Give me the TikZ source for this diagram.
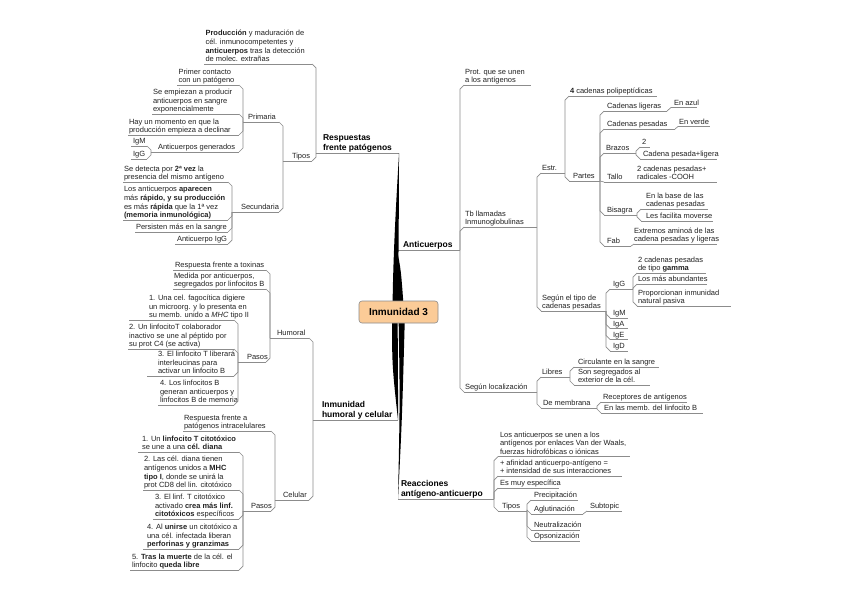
\documentclass[tikz,border=0pt]{standalone}
\usepackage{fontspec}
\setmainfont{Liberation Sans}
\usetikzlibrary{calc}
\definecolor{lncol}{HTML}{8C8C8C}
\definecolor{txtcol}{HTML}{222222}
\definecolor{orng}{HTML}{FBCB97}
\tikzset{
  tx/.style={inner sep=0pt, outer sep=0pt, align=left, font=\fontsize{7.5}{8.7}\selectfont, text=txtcol},
  mt/.style={inner sep=0pt, outer sep=0pt, align=left, font=\fontsize{8.5}{10}\selectfont\bfseries, text=black},
  ln/.style={draw=lncol, line width=0.7pt, line join=round},
  wedge/.style={fill=black},
}
% [style]{name}{text x}{underline y}{x1}{x2}{text}
\newcommand\T[7][tx]{%
  \node[#1,anchor=south west] (#2) at (#3,#4-0.3) {#7\rule[-1.8pt]{0pt}{0pt}};
  \coordinate (#2-a) at (#5,#4); \coordinate (#2-b) at (#6,#4);
  \draw[ln] (#2-a) -- (#2-b);}
% left child {child}{parent}{offset}
\newcommand\LC[3]{\draw[ln] (#1-b) -- ($(#1-b -| #2-a)+(0,#3)$) -- (#2-a);}
% right child {child}{parent}{offset}
\newcommand\RC[3]{\draw[ln] (#2-b) -- ($(#1-a -| #2-b)+(0,#3)$) -- (#1-a);}
\begin{document}
\begin{tikzpicture}[x=1pt,y=-1pt]
\useasboundingbox (0,0) rectangle (848,599);
\fill[white] (0,0) rectangle (848,599);

% ---------- Respuestas frente patogenos ----------
\T[mt]{resp}{323}{153}{316}{399}{Respuestas\\frente patógenos}
\T{prod}{205.5}{64}{204}{312}{\textbf{Producción} y maduración de\\cél. inmunocompetentes y\\\textbf{anticuerpos} tras la detección\\de molec. extrañas}
\T{tip1}{292}{161}{283}{312}{Tipos}
\LC{prod}{resp}{4}
\LC{tip1}{resp}{-4}
\T{prim}{248}{122}{243}{279}{Primaria}
\T{secu}{241}{212}{232}{279}{Secundaria}
\LC{prim}{tip1}{4}
\LC{secu}{tip1}{-4}
\T{pric}{178.5}{85}{177}{239}{Primer contacto\\con un patógeno}
\T{seem}{153}{114}{152}{239}{Se empiezan a producir\\anticuerpos en sangre\\exponencialmente}
\T{haym}{129}{135}{128}{239}{Hay un momento en que la\\producción empieza a declinar}
\T{agen}{158}{152}{151}{239}{Anticuerpos generados}
\LC{pric}{prim}{4}
\LC{seem}{prim}{4}
\LC{haym}{prim}{-4}
\LC{agen}{prim}{-4}
\T{igmA}{133}{146}{131}{147}{IgM}
\T{iggA}{133}{159}{131}{147}{IgG}
\LC{igmA}{agen}{4}
\LC{iggA}{agen}{-4}
\T{sdet}{124}{182}{123}{228}{Se detecta por \textbf{2ª vez} la\\presencia del mismo antígeno}
\T{lant}{124}{220}{123}{228}{Los anticuerpos \textbf{aparecen}\\más \textbf{rápido, y su producción}\\es más \textbf{rápida} que la 1ª vez\\\textbf{(memoria inmunológica)}}
\T{pers}{136}{232}{135}{228}{Persisten más en la sangre}
\T{aigg}{177}{244}{175}{228}{Anticuerpo IgG}
\LC{sdet}{secu}{4}
\LC{lant}{secu}{-4}
\LC{pers}{secu}{-4}
\LC{aigg}{secu}{-4}

% ---------- Inmunidad humoral y celular ----------
\T[mt]{inm}{322}{420}{313}{398}{Inmunidad\\humoral y celular}
\T{humo}{277}{338}{270}{309}{Humoral}
\T{celu}{283}{500}{275}{309}{Celular}
\LC{humo}{inm}{4}
\LC{celu}{inm}{-4}
\T{toxi}{175}{270}{173}{266}{Respuesta frente a toxinas}
\T{medi}{174}{289}{173}{266}{Medida por anticuerpos,\\segregados por linfocitos B}
\T{pas1}{247}{362}{238}{266}{Pasos}
\LC{toxi}{humo}{4}
\LC{medi}{humo}{4}
\LC{pas1}{humo}{-4}
\T{hA}{149}{320}{129}{234}{1. Una cel. fagocítica digiere\\un microorg. y lo presenta en\\su memb. unido a \textit{MHC} tipo II}
\T{hB}{129}{349}{128}{234}{2. Un linfocitoT colaborador\\inactivo se une al péptido por\\su prot C4 (se activa)}
\T{hC}{158}{376}{147}{234}{3. El linfocito T liberará\\interleucinas para\\activar un linfocito B}
\T{hD}{160}{405}{158}{234}{4. Los linfocitos B\\generan anticuerpos y\\linfocitos B de memoria}
\LC{hA}{pas1}{4}
\LC{hB}{pas1}{4}
\LC{hC}{pas1}{-4}
\LC{hD}{pas1}{-4}
\T{cres}{184}{431}{183}{271}{Respuesta frente a\\patógenos intracelulares}
\T{pas2}{251}{511}{243}{271}{Pasos}
\LC{cres}{celu}{4}
\LC{pas2}{celu}{-4}
\T{cA}{142}{452}{138}{239}{1. Un \textbf{linfocito T citotóxico}\\se une a una \textbf{cél. diana}}
\T{cB}{144}{490}{143}{239}{2. Las cél. diana tienen\\antígenos unidos a \textbf{MHC}\\\textbf{tipo I}, donde se unirá la\\prot CD8 del lin. citotóxico}
\T{cC}{155}{519}{153}{239}{3. El linf. T citotóxico\\activado \textbf{crea más linf.}\\\textbf{citotóxicos} específicos}
\T{cD}{147}{549}{143}{239}{4. Al \textbf{unirse} un citotóxico a\\una cél. infectada liberan\\\textbf{perforinas y granzimas}}
\T{cE}{132}{570}{130}{239}{5. \textbf{Tras la muerte} de la cél. el\\linfocito \textbf{queda libre}}
\LC{cA}{pas2}{4}
\LC{cB}{pas2}{4}
\LC{cC}{pas2}{-4}
\LC{cD}{pas2}{-4}
\LC{cE}{pas2}{-4}

% ---------- Anticuerpos ----------
\T[mt]{anti}{403}{250}{397}{460}{Anticuerpos}
\T{prot}{465}{85}{464}{531}{Prot. que se unen\\a los antígenos}
\T{tbll}{465}{227}{464}{537}{Tb llamadas\\Inmunoglobulinas}
\T{sloc}{465}{392}{464}{537}{Según localización}
\RC{prot}{anti}{4}
\RC{tbll}{anti}{4}
\RC{sloc}{anti}{-4}
\T{estr}{542}{173}{541}{565}{Estr.}
\T{stip}{542}{311}{541}{606}{Según el tipo de\\cadenas pesadas}
\RC{estr}{tbll}{4}
\RC{stip}{tbll}{-4}
\T{cuat}{570}{96}{569}{657}{\textbf{4} cadenas polipeptídicas}
\T{part}{573}{181}{569}{600}{Partes}
\RC{cuat}{estr}{4}
\RC{part}{estr}{-4}
\T{cl}{607}{111}{604}{667}{Cadenas ligeras}
\T{enaz}{674}{107.5}{671}{697}{En azul}
\draw[ln] (cl-b) -- (enaz-a);
\T{cp}{607}{129}{604}{675}{Cadenas pesadas}
\T{enve}{679}{126.5}{678}{710}{En verde}
\draw[ln] (cp-b) -- (enve-a);
\T{braz}{606}{153}{604}{636}{Brazos}
\T{dos}{642}{147}{640}{650}{2}
\T{cpl}{643}{159}{640}{717}{Cadena pesada+ligera}
\RC{dos}{braz}{4}
\RC{cpl}{braz}{-4}
\T{tall}{607}{182}{604}{632}{Tallo}
\T{dcad}{637}{182}{632}{717}{2 cadenas pesadas+\\radicales -COOH}
\draw[ln] (part-b) -- (tall-a);
\T{bisa}{607}{215}{604}{637}{Bisagra}
\T{base}{646}{209}{641}{708}{En la base de las\\cadenas pesadas}
\T{faci}{646}{221}{641}{713}{Les facilita moverse}
\RC{base}{bisa}{4}
\RC{faci}{bisa}{-4}
\T{fab}{607}{246}{604}{631}{Fab}
\T{extr}{634}{244}{634}{717}{Extremos aminoá de las\\cadena pesadas y ligeras}
\draw[ln] (fab-b) -- (extr-a);
\RC{cl}{part}{4}
\RC{cp}{part}{4}
\RC{braz}{part}{4}
\RC{bisa}{part}{-4}
\RC{fab}{part}{-4}
\T{iggB}{613}{289}{610}{633}{IgG}
\T{gamm}{638}{273}{637}{706}{2 cadenas pesadas\\de tipo \textbf{gamma}}
\T{abun}{638}{284}{637}{707}{Los más abundantes}
\T{prop}{638}{306}{637}{731}{Proporcionan inmunidad\\natural pasiva}
\RC{gamm}{iggB}{4}
\RC{abun}{iggB}{4}
\RC{prop}{iggB}{-4}
\T{igmB}{613}{318}{610}{628}{IgM}
\T{igaB}{613}{328.5}{610}{628}{IgA}
\T{igeB}{613}{339.5}{610}{628}{IgE}
\T{igdB}{613}{351}{610}{628}{IgD}
\RC{iggB}{stip}{4}
\RC{igmB}{stip}{-4}
\RC{igaB}{stip}{-4}
\RC{igeB}{stip}{-4}
\RC{igdB}{stip}{-4}
\T{libr}{542}{377}{541}{570}{Libres}
\T{circ}{578}{367}{574}{659}{Circulante en la sangre}
\T{sons}{578}{385}{574}{650}{Son segregados al\\exterior de la cél.}
\T{dmem}{543}{408}{541}{597}{De membrana}
\T{rece}{603}{402}{601}{687}{Receptores de antígenos}
\T{enlm}{604}{413}{601}{703}{En las memb. del linfocito B}
\RC{libr}{sloc}{4}
\RC{dmem}{sloc}{-4}
\RC{circ}{libr}{4}
\RC{sons}{libr}{-4}
\RC{rece}{dmem}{4}
\RC{enlm}{dmem}{-4}

% ---------- Reacciones ----------
\T[mt]{reac}{401}{499}{398}{494}{Reacciones\\antígeno-anticuerpo}
\T{vand}{500}{456.5}{498}{630}{Los anticuerpos se unen a los\\antígenos por enlaces Van der Waals,\\fuerzas hidrofóbicas o iónicas}
\T{afin}{500}{476}{498}{622}{+ afinidad anticuerpo-antígeno =\\+ intensidad de sus interacciones}
\T{esmu}{500}{488}{498}{559}{Es muy específica}
\T{tip2}{502}{511}{498}{527}{Tipos}
\RC{vand}{reac}{4}
\RC{afin}{reac}{4}
\RC{esmu}{reac}{4}
\RC{tip2}{reac}{-4}
\T{prec}{534}{500}{531}{578}{Precipitación}
\T{aglu}{534}{514}{531}{583}{Aglutinación}
\T{subt}{590}{511}{587}{622}{Subtopic}
\draw[ln] (aglu-b) -- (subt-a);
\T{neut}{534}{530}{531}{580}{Neutralización}
\T{opso}{534}{541}{531}{580}{Opsonización}
\RC{prec}{tip2}{4}
\RC{aglu}{tip2}{-4}
\RC{neut}{tip2}{-4}
\RC{opso}{tip2}{-4}

% ---------- central wedges ----------
\fill[wedge] (392.5,312) .. controls (393,250) and (397,190) .. (resp-b) .. controls (399,200) and (398.5,250) .. (398,312) -- cycle;
\fill[wedge] (397.5,312) .. controls (397.5,285) .. (anti-a) .. controls (401,270) .. (404,312) -- cycle;
\fill[wedge] (392,312) .. controls (392,365) .. (inm-b) .. controls (398,365) .. (397.5,312) -- cycle;
\fill[wedge] (398.5,312) .. controls (400,400) .. (reac-a) .. controls (402,420) .. (405,312) -- cycle;

\node[draw=lncol, fill=orng, rounded corners=3pt, line width=0.6pt, minimum width=79pt, minimum height=22pt, inner sep=0pt, font=\fontsize{10}{12}\selectfont\bfseries] (cen) at (398.5,312) {Inmunidad 3};
\end{tikzpicture}
\end{document}
